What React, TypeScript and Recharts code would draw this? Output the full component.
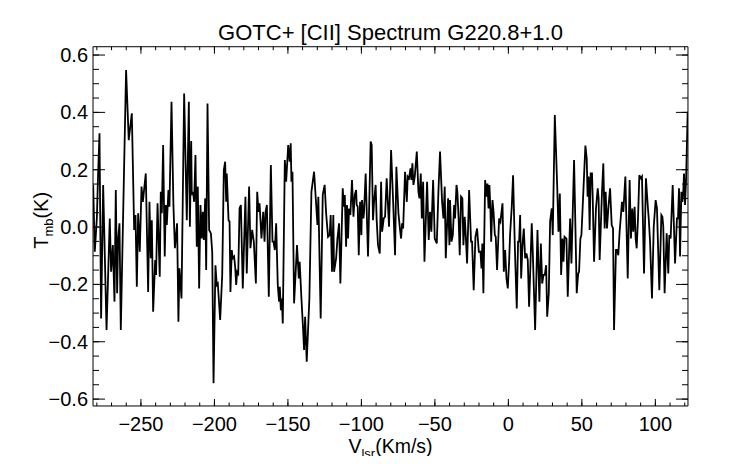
import React from 'react';
import { LineChart, Line, XAxis, YAxis, Label } from 'recharts';

// Velocity (km/s) of each channel
const vel: number[] = [
  -282.5, -281.4, -280.0, -279.1, -278.2, -277.1, -275.7, -273.4, -271.2, -270.3,
  -269.1, -268.0, -267.1, -266.2, -265.5, -264.6, -263.7, -260.1, -258.3, -256.2,
  -254.6, -253.7, -252.8, -251.9, -250.8, -249.6, -248.7, -246.7, -245.1, -244.2,
  -243.3, -242.6, -241.7, -240.3, -239.7, -238.7, -237.2, -236.5, -235.8, -234.9,
  -233.8, -233.1, -232.4, -231.3, -230.6, -229.2, -227.9, -226.9, -225.4, -224.5,
  -223.8, -222.4, -220.6, -218.8, -217.4, -216.7, -215.8,
  -215.4, -214.5, -213.8, -212.9, -212.0, -211.3, -210.4, -209.5, -208.6, -207.9,
  -207.2, -206.3, -205.6, -204.7, -203.6, -202.4, -201.5, -200.6, -199.3, -198.4,
  -197.7, -196.1, -194.7, -193.6, -192.7, -192.0, -191.6, -190.4, -189.7, -189.1,
  -188.2, -187.5, -186.6, -185.9, -185.2, -184.5, -183.8, -182.9, -182.0, -180.7,
  -178.9, -178.0, -176.4, -175.5, -174.3, -173.2, -171.8, -170.9, -170.0, -169.3,
  -168.0, -166.8, -165.9, -165.2, -164.3, -163.0, -161.6, -160.5, -159.8, -158.9,
  -158.0, -156.9, -156.0, -155.5, -154.8, -154.1, -153.5, -152.1, -151.2, -149.8,
  -148.8, -148.1, -147.6, -146.9, -145.8, -143.8, -142.6, -142.0, -140.8, -139.7,
  -139.0, -138.3, -137.2, -135.4, -134.0, -132.2, -129.9, -129.3, -127.7, -126.3,
  -125.0, -124.0, -122.7, -121.6, -120.9, -120.0, -119.1, -118.6, -117.2, -116.3,
  -115.2, -114.3, -112.7, -112.0, -111.3, -110.4, -109.8, -109.1, -108.4, -107.5,
  -106.4, -105.4, -104.5, -103.6, -103.2, -102.5, -101.8, -100.9, -100.0, -99.6,
  -98.6, -98.2, -97.1, -95.5, -93.7, -93.0, -92.1, -91.4, -90.3, -89.6,
  -88.7, -87.5, -86.6, -85.9, -84.8, -83.9, -82.8,
  -81.2, -79.8, -78.4, -77.1, -76.2, -74.8, -73.7, -73.0, -72.3, -71.6,
  -70.3, -69.1, -68.5, -67.6, -66.6, -66.0, -65.3, -64.6, -63.7, -62.3,
  -61.2, -60.5, -59.6, -58.9, -58.0, -57.1, -55.3, -54.2, -53.3, -52.4,
  -51.2, -50.1, -48.7, -47.6, -46.5, -45.1, -44.2, -43.3, -42.6, -41.0,
  -40.1, -39.7, -38.7, -37.8, -36.9, -36.3, -35.3, -34.7, -33.8, -33.1,
  -32.2, -31.3, -30.6, -29.7, -29.0, -28.1, -26.7, -25.4, -24.7, -23.6,
  -22.4, -21.3, -20.1, -19.0, -18.3, -17.7, -17.0, -15.8,
  -14.9, -14.2, -13.5, -12.9, -12.2, -11.7, -10.8, -10.1, -9.2, -8.6,
  -7.7, -6.3, -5.4, -4.0, -3.1, -2.2, -1.3, -0.4, 0.5, 1.2,
  2.3, 3.2, 4.4, 5.7, 6.6, 7.3, 8.0, 8.7, 9.6, 10.5,
  11.4, 12.3, 13.2, 14.1, 15.9, 16.6, 18.2, 19.8, 21.1, 22.1,
  23.0, 23.9, 24.8, 25.7, 26.4, 27.5, 28.4, 29.5, 30.2, 31.6,
  33.2, 34.1, 35.0, 35.9, 36.8, 37.5, 38.2, 39.5, 40.4, 42.0,
  42.9, 43.8, 44.7, 46.5, 47.5, 48.1, 49.0, 49.7,
  52.4, 53.3, 53.9, 54.6, 55.3, 56.0, 56.9, 57.4, 58.3, 59.6,
  60.8, 61.4, 62.1, 63.7, 64.6, 65.5, 66.2, 67.1, 68.0, 69.2,
  70.3, 71.2, 71.9, 73.2, 73.9, 74.8, 75.7, 76.6, 77.3, 78.2,
  79.6, 81.2, 82.5, 83.4, 84.3, 85.0, 85.9, 86.6, 87.3, 88.2,
  89.1, 90.2, 90.9, 92.3, 93.6, 94.8, 95.5, 96.4, 97.7, 98.9,
  100.2, 101.1, 102.7, 104.1, 104.8, 105.4, 106.3, 107.7, 108.8, 109.5,
  110.4, 111.8, 113.4, 114.7, 115.4, 116.1, 116.8, 117.7, 118.4, 119.0,
  119.5, 120.2, 120.9, 122.0,
];

// Main-beam temperature (K) of each channel
const tmb: number[] = [
  0.147, -0.086, 0.030, 0.193, 0.327, -0.319, 0.147, -0.359, 0.030, -0.156,
  -0.063, -0.260, 0.129, -0.231, -0.040, 0.013, -0.359, 0.548, 0.303, 0.397,
  -0.010, 0.042, -0.208, 0.048, -0.086, 0.141, 0.088, 0.187, -0.226, 0.088,
  -0.109, 0.024, -0.295, -0.115, -0.167, 0.083, -0.173, 0.123, 0.048, 0.286,
  -0.103, 0.077, 0.007, 0.129, 0.071, 0.437, 0.077, -0.074, 0.013, -0.330,
  -0.144, -0.249, 0.466, 0.024, 0.437, 0.001, 0.300,
  0.112, 0.123, 0.088, 0.251, -0.069, 0.141, -0.214, 0.077, -0.040, 0.053,
  -0.045, 0.100, -0.150, 0.431, -0.010, -0.022, -0.086, -0.545, -0.133, -0.202,
  -0.197, -0.324, -0.167, 0.199, 0.228, 0.088, 0.187, 0.024, 0.019, -0.226,
  -0.080, -0.109, -0.103, -0.138, -0.202, -0.156, -0.162, 0.065, 0.077, -0.214,
  0.106, -0.162, 0.141, -0.074, -0.010, -0.051, -0.197, 0.123, 0.053, 0.083,
  -0.040, 0.053, -0.051, 0.053, 0.077, -0.243, 0.216, -0.051, -0.051, -0.080,
  0.013, -0.202, -0.260, -0.208, -0.290, -0.249, -0.336, 0.234, 0.158, 0.286,
  0.228, 0.292, 0.158, 0.193, -0.266, -0.063, -0.179, -0.121, -0.249, -0.353,
  -0.429, -0.313, -0.470, -0.249, 0.123, 0.193, 0.007, 0.106, -0.319, 0.112,
  0.147, 0.048, -0.034, -0.028, 0.042, -0.156, 0.042, -0.156, -0.109, -0.040,
  0.013, -0.197, 0.135, 0.071, 0.112, -0.069, 0.077, -0.040, 0.065, 0.042,
  0.164, 0.036, 0.112, 0.129, 0.077, 0.071, -0.098, 0.088, -0.028, 0.094,
  0.030, 0.053, 0.187, -0.103, 0.298, 0.286, 0.024, 0.088, 0.147, 0.024,
  -0.063, -0.092, 0.158, -0.016, 0.030, 0.036, 0.170,
  0.001, 0.269, 0.088, -0.098, 0.210, 0.048, -0.010, -0.040, 0.013, -0.005,
  0.193, 0.088, 0.176, 0.170, 0.205, 0.164, 0.222, 0.147, 0.176, 0.263,
  0.123, 0.100, 0.187, 0.030, 0.158, -0.121, 0.158, -0.045, 0.053, -0.016,
  0.164, -0.040, -0.057, 0.123, 0.263, 0.088, 0.030, 0.141, -0.109, 0.100,
  -0.063, 0.094, -0.051, -0.028, 0.077, 0.030, 0.147, 0.123, 0.024, -0.098,
  0.106, 0.100, -0.063, 0.036, -0.028, -0.127, 0.129, -0.051, -0.051, -0.220,
  -0.034, -0.005, -0.086, -0.086, -0.144, -0.057, -0.231, 0.164,
  0.106, 0.152, 0.065, 0.147, 0.059, -0.051, 0.094, 0.053, -0.028, -0.034,
  -0.150, 0.030, 0.019, 0.083, -0.156, -0.080, -0.179, -0.214, -0.121, -0.022,
  0.071, 0.181, -0.069, -0.284, -0.051, -0.051, 0.042, -0.179, -0.063, -0.005,
  -0.109, -0.092, -0.115, -0.278, 0.013, -0.086, -0.359, -0.010, -0.260, -0.057,
  -0.197, -0.167, -0.167, -0.133, -0.313, -0.231, 0.019, 0.065, -0.028, 0.391,
  0.147, -0.016, 0.117, -0.167, -0.040, -0.121, -0.034, -0.040, -0.243, 0.030,
  -0.127, 0.053, 0.234, -0.231, -0.162, -0.156, -0.040, -0.028,
  0.284, 0.240, 0.106, 0.176, -0.010, 0.187, 0.187, 0.100, -0.121, 0.065,
  0.135, 0.100, -0.115, 0.123, 0.222, -0.005, 0.123, -0.005, 0.065, 0.135,
  0.007, -0.005, -0.359, -0.080, -0.080, -0.098, -0.016, 0.042, 0.088, 0.053,
  0.176, -0.179, 0.164, -0.040, 0.065, -0.016, 0.071, -0.040, -0.074, 0.030,
  0.181, 0.170, 0.176, -0.162, 0.170, 0.077, 0.030, -0.051, -0.249, 0.001,
  0.094, 0.065, -0.220, 0.042, 0.036, 0.001, -0.231, -0.022, -0.162, -0.028,
  -0.040, 0.147, -0.127, 0.030, 0.030, 0.135, -0.103, 0.123, 0.088, 0.123,
  0.187, 0.077, 0.164, 0.402,
];

const xMajorTicks: number[] = [-250, -200, -150, -100, -50, 0, 50, 100];
const xMinorTicks: number[] = [
  -280, -270, -260, -250, -240, -230, -220, -210, -200, -190, -180, -170, -160, -150,
  -140, -130, -120, -110, -100, -90, -80, -70, -60, -50, -40, -30, -20, -10, 0,
  10, 20, 30, 40, 50, 60, 70, 80, 90, 100, 110, 120,
];
const yMajorTicks: number[] = [-0.6, -0.4, -0.2, 0.0, 0.2, 0.4, 0.6];
const yMinorTicks: number[] = [
  -0.6, -0.55, -0.5, -0.45, -0.4, -0.35, -0.3, -0.25, -0.2, -0.15, -0.1, -0.05, 0,
  0.05, 0.1, 0.15, 0.2, 0.25, 0.3, 0.35, 0.4, 0.45, 0.5, 0.55, 0.6,
];

const X_DOMAIN: [number, number] = [-282.6, 122.2];
const Y_DOMAIN: [number, number] = [-0.624, 0.629];

const data = vel.map((v, i) => ({ v, t: tmb[i] }));

const FONT = '"Liberation Sans", Arial, Helvetica, sans-serif';
const AX = 0.01; // near-zero axis thickness so every axis sits on the plot frame
const minus = (s: string) => s.replace('-', '\u2212');
const fmtX = (v: number) => minus(String(v));
const fmtY = (v: number) => minus(v.toFixed(1));

const XBottomMajor = (p: any) => (
  <g>
    <line x1={p.x} y1={p.y} x2={p.x} y2={p.y - 7} stroke="#000" strokeWidth={1} />
    <text x={p.x} y={p.y + 25} textAnchor="middle" fontSize={20} fontFamily={FONT} fill="#000">
      {fmtX(p.payload.value)}
    </text>
  </g>
);
const XBottomMinor = (p: any) => (
  <line x1={p.x} y1={p.y} x2={p.x} y2={p.y - 3.5} stroke="#000" strokeWidth={1} />
);
const XTopMajor = (p: any) => (
  <line x1={p.x} y1={p.y} x2={p.x} y2={p.y + 7} stroke="#000" strokeWidth={1} />
);
const XTopMinor = (p: any) => (
  <line x1={p.x} y1={p.y} x2={p.x} y2={p.y + 3.5} stroke="#000" strokeWidth={1} />
);
const YLeftMajor = (p: any) => (
  <g>
    <line x1={p.x} y1={p.y} x2={p.x + 12} y2={p.y} stroke="#000" strokeWidth={1} />
    <text x={p.x - 5} y={p.y + 7} textAnchor="end" fontSize={20} fontFamily={FONT} fill="#000">
      {fmtY(p.payload.value)}
    </text>
  </g>
);
const YLeftMinor = (p: any) => (
  <line x1={p.x} y1={p.y} x2={p.x + 6} y2={p.y} stroke="#000" strokeWidth={1} />
);
const YRightMajor = (p: any) => (
  <line x1={p.x} y1={p.y} x2={p.x - 12} y2={p.y} stroke="#000" strokeWidth={1} />
);
const YRightMinor = (p: any) => (
  <line x1={p.x} y1={p.y} x2={p.x - 6} y2={p.y} stroke="#000" strokeWidth={1} />
);

const XTitle = (p: any) => {
  const vb = p.viewBox || {};
  return (
    <text x={vb.x + vb.width / 2} y={vb.y + 47} textAnchor="middle" fontSize={19.5} fontFamily={FONT} fill="#000">
      <tspan>V</tspan>
      <tspan fontSize={13} dy={5}>lsr</tspan>
      <tspan dy={-5}>(Km/s)</tspan>
    </text>
  );
};
const YTitle = (p: any) => {
  const vb = p.viewBox || {};
  const cx = vb.x - 45;
  const cy = vb.y + vb.height / 2 - 6;
  return (
    <text x={cx} y={cy} transform={`rotate(-90 ${cx} ${cy})`} textAnchor="middle" fontSize={20} fontFamily={FONT} fill="#000">
      <tspan>T</tspan>
      <tspan fontSize={13} dy={5}>mb</tspan>
      <tspan dy={-5}>(K)</tspan>
    </text>
  );
};
const MainTitle = (p: any) => {
  const vb = p.viewBox || {};
  return (
    <text x={vb.x + vb.width / 2} y={vb.y - 7} textAnchor="middle" fontSize={22} fontFamily={FONT} fill="#000">
      GOTC+ [CII] Spectrum G220.8+1.0
    </text>
  );
};

const axisLine = { stroke: '#000', strokeWidth: 1 };

export default function App() {
  // negative vertical margins cancel the body's 8px margin so the svg spans the full 464px height
  return (
    <div style={{ width: 726, height: 464, marginTop: -8, marginBottom: -8, fontFamily: FONT, background: '#fff' }}>
      <LineChart width={726} height={464} data={data} margin={{ top: 46.7, right: 46, bottom: 58, left: 85 }}>
        <XAxis xAxisId="b" dataKey="v" type="number" orientation="bottom" domain={X_DOMAIN} allowDataOverflow
          ticks={xMajorTicks} interval={0} height={AX} tickSize={0} tickMargin={0} tickLine={false}
          axisLine={axisLine} tick={XBottomMajor}>
          <Label content={XTitle} />
        </XAxis>
        <XAxis xAxisId="bm" dataKey="v" type="number" orientation="bottom" domain={X_DOMAIN} allowDataOverflow
          ticks={xMinorTicks} interval={0} height={AX} tickSize={0} tickMargin={0} tickLine={false}
          axisLine={false} tick={XBottomMinor} />
        <XAxis xAxisId="t" dataKey="v" type="number" orientation="top" domain={X_DOMAIN} allowDataOverflow
          ticks={xMajorTicks} interval={0} height={AX} tickSize={0} tickMargin={0} tickLine={false}
          axisLine={axisLine} tick={XTopMajor}>
          <Label content={MainTitle} />
        </XAxis>
        <XAxis xAxisId="tm" dataKey="v" type="number" orientation="top" domain={X_DOMAIN} allowDataOverflow
          ticks={xMinorTicks} interval={0} height={AX} tickSize={0} tickMargin={0} tickLine={false}
          axisLine={false} tick={XTopMinor} />
        <YAxis yAxisId="l" type="number" orientation="left" domain={Y_DOMAIN} allowDataOverflow
          ticks={yMajorTicks} interval={0} width={AX} tickSize={0} tickMargin={0} tickLine={false}
          axisLine={axisLine} tick={YLeftMajor}>
          <Label content={YTitle} />
        </YAxis>
        <YAxis yAxisId="lm" type="number" orientation="left" domain={Y_DOMAIN} allowDataOverflow
          ticks={yMinorTicks} interval={0} width={AX} tickSize={0} tickMargin={0} tickLine={false}
          axisLine={false} tick={YLeftMinor} />
        <YAxis yAxisId="r" type="number" orientation="right" domain={Y_DOMAIN} allowDataOverflow
          ticks={yMajorTicks} interval={0} width={AX} tickSize={0} tickMargin={0} tickLine={false}
          axisLine={axisLine} tick={YRightMajor} />
        <YAxis yAxisId="rm" type="number" orientation="right" domain={Y_DOMAIN} allowDataOverflow
          ticks={yMinorTicks} interval={0} width={AX} tickSize={0} tickMargin={0} tickLine={false}
          axisLine={false} tick={YRightMinor} />
        <Line xAxisId="b" yAxisId="l" dataKey="t" type="linear" stroke="#000" strokeWidth={1.8}
          dot={false} activeDot={false} isAnimationActive={false} />
      </LineChart>
    </div>
  );
}
